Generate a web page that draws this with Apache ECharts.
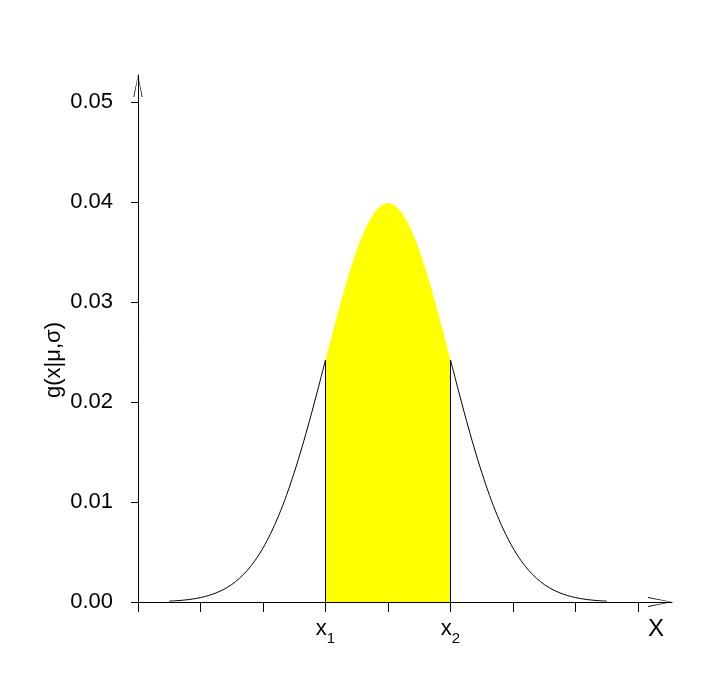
<!DOCTYPE html>
<html>
<head>
<meta charset="utf-8">
<script src="https://cdn.jsdelivr.net/npm/echarts@6/dist/echarts.min.js"></script>
<style>html,body{margin:0;padding:0;background:#fff;}#c{width:710px;height:675px;}</style>
</head>
<body>
<div id="c"></div>
<script>
// x positions (mu = 50, sigma = 10)
const xValues = [15,16.25,17.5,18.75,20,21.25,22.5,23.75,25,26.25,27.5,28.75,30,31.25,32.5,33.75,35,36.25,37.5,38.75,
                 40,41.25,42.5,43.75,45,46.25,47.5,48.75,50,51.25,52.5,53.75,55,56.25,57.5,58.75,
                 60,61.25,62.5,63.75,65,66.25,67.5,68.75,70,71.25,72.5,73.75,75,76.25,77.5,78.75,80,81.25,82.5,83.75,85];
// density values
const yValues = [0.00009,0.00013,0.00020,0.00030,0.00044,0.00064,0.00091,0.00127,0.00175,0.00238,0.00317,0.00417,0.00540,0.00688,0.00863,0.01065,0.01295,0.01550,0.01826,0.02119,
                 0.02420,0.02720,0.03011,0.03281,0.03520,0.03718,0.03866,0.03958,0.03989,0.03958,0.03866,0.03718,0.03520,0.03281,0.03011,0.02720,
                 0.02420,0.02119,0.01826,0.01550,0.01295,0.01065,0.00863,0.00688,0.00540,0.00417,0.00317,0.00238,0.00175,0.00127,0.00091,0.00064,0.00044,0.00030,0.00020,0.00013,0.00009];
const x1 = 40, x2 = 60;
const xTickValues = [10,20,30,40,50,60,70,80,90];
const xLabelValues = [40,60];
const xLabelNames = {40:'1', 60:'2'};
const yTickValues = [0,0.01,0.02,0.03,0.04,0.05];

const pts = xValues.map((x,i)=>[x,yValues[i]]);
const leftTail = pts.filter(p=>p[0]<=x1);
const rightTail = pts.filter(p=>p[0]>=x2);
const middle = pts.filter(p=>p[0]>=x1 && p[0]<=x2);
const yAt = x => yValues[xValues.indexOf(x)];

const arrowPath = 'path://M5 0 L10 24 L9.1 24 L5 2 L0.9 24 L0 24 Z';
const font = '"Liberation Sans", Arial, Helvetica, sans-serif';

const chart = echarts.init(document.getElementById('c'), null, {renderer:'canvas'});
chart.setOption({
  animation:false,
  backgroundColor:'#fff',
  grid:{left:138, right:38, top:75, bottom:73, containLabel:false},
  xAxis:{
    type:'value', min:10, max:95.44, interval:10,
    splitLine:{show:false},
    axisLine:{show:true, onZero:false, lineStyle:{color:'#000', width:1},
      symbol:['none', arrowPath], symbolSize:[12,24], symbolOffset:[0,-12]},
    axisTick:{show:true, length:10, customValues:xTickValues, lineStyle:{color:'#000', width:1}},
    axisLabel:{show:true, customValues:xLabelValues, margin:16,
      formatter: v => '{a|x}{b|' + xLabelNames[v] + '}',
      rich:{a:{fontSize:22, fontFamily:font, color:'#000', verticalAlign:'top', padding:[0,0,6,0]},
            b:{fontSize:15, fontFamily:font, color:'#000', verticalAlign:'bottom', padding:[10,0,0,0]}}},
    name:'X', nameLocation:'end', nameGap:-24,
    nameTextStyle:{fontSize:24, fontFamily:font, color:'#000', verticalAlign:'top', padding:[15,0,0,0]}
  },
  yAxis:{
    type:'value', min:0, max:0.0527, interval:0.01,
    splitLine:{show:false},
    axisLine:{show:true, onZero:false, lineStyle:{color:'#000', width:1},
      symbol:['none', arrowPath], symbolSize:[14,22], symbolOffset:[0,-11]},
    axisTick:{show:true, length:7, customValues:yTickValues, lineStyle:{color:'#000', width:1}},
    axisLabel:{show:true, customValues:yTickValues, margin:25, fontSize:22, fontFamily:font, color:'#000',
      formatter: v => v.toFixed(2)}
  },
  graphic:[{
    type:'text', x:54, y:360, rotation:Math.PI/2,
    style:{text:'g(x|μ,σ)', fontSize:22, fontFamily:font, fill:'#000', align:'center', verticalAlign:'middle'}
  }],
  series:[
    {type:'line', data:middle, smooth:0.3, symbol:'none', z:1,
     lineStyle:{width:0, color:'#ffff00'}, areaStyle:{color:'#ffff00', opacity:1}},
    {type:'line', data:leftTail, smooth:0.3, symbol:'none', z:3,
     lineStyle:{width:1, color:'#000'},
     markLine:{silent:true, symbol:['none','none'], label:{show:false},
       lineStyle:{color:'#000', width:1, type:'solid'},
       data:[[{coord:[x1,0]},{coord:[x1,yAt(x1)]}],[{coord:[x2,0]},{coord:[x2,yAt(x2)]}]]}},
    {type:'line', data:rightTail, smooth:0.3, symbol:'none', z:3,
     lineStyle:{width:1, color:'#000'}}
  ]
});
</script>
</body>
</html>
